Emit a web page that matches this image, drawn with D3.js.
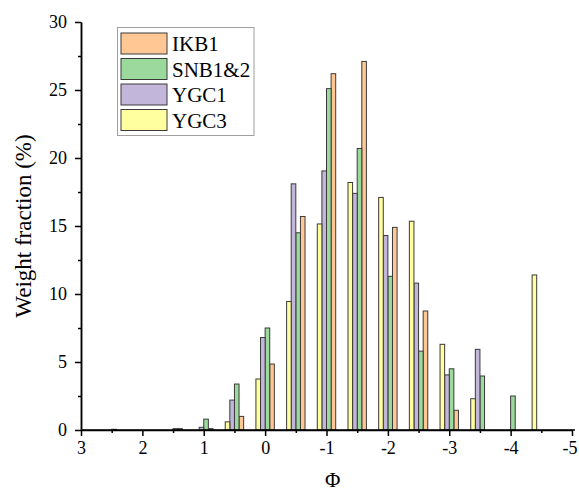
<!DOCTYPE html>
<html><head><meta charset="utf-8">
<script src="https://cdn.jsdelivr.net/npm/d3@7"></script>
<style>body{margin:0;background:#fff}svg{display:block}</style>
</head><body><svg id="c" width="579" height="493" style="font-family:'Liberation Serif'"></svg>
<script>
const phi = [2.5, 2, 1.5, 1, 0.5, 0, -0.5, -1, -1.5, -2, -2.5, -3, -3.5, -4, -4.5];
const seriesNames = ["IKB1", "SNB1&2", "YGC1", "YGC3"];
const IKB1  = [0, 0, 0.1, 0.1, 1.0, 4.85, 15.7, 26.2, 27.1, 14.9, 8.75, 1.45, 0, 0, 0];
const SNB12 = [0.05, 0, 0.1, 0.8, 3.38, 7.5, 14.5, 25.1, 20.7, 11.3, 5.8, 4.5, 3.97, 2.5, 0];
const YGC1  = [0, 0, 0, 0.2, 2.2, 6.8, 18.1, 19.05, 17.4, 14.3, 10.8, 4.05, 5.93, 0, 0];
const YGC3  = [0, 0, 0, 0, 0.6, 3.75, 9.45, 15.15, 18.2, 17.1, 15.35, 6.3, 2.3, 0, 11.4];
const colors = ["#FFC794", "#9CD99C", "#C3B6DB", "#FFFFA0"];
const xTicks = [3, 2, 1, 0, -1, -2, -3, -4, -5];
const yTicks = [0, 5, 10, 15, 20, 25, 30];

const FONT = "'Liberation Serif', 'Times New Roman', serif";
const svg = d3.select("#c");
const x = d3.scaleLinear().domain([3, -5]).range([81, 572]);
const y = d3.scaleLinear().domain([0, 30]).range([430, 22]);
const seriesVals = [IKB1, SNB12, YGC1, YGC3];
const bw = 0.075;
// visual order left->right: YGC3, YGC1, SNB1&2, IKB1
const offsets = [-0.075, 0, 0.075, 0.15];

const bars = [];
seriesVals.forEach((vals, s) => {
  vals.forEach((v, i) => { if (v > 0) bars.push({s, c: phi[i], v}); });
});
svg.append("g").selectAll("rect").data(bars).join("rect")
  .attr("x", d => x(d.c + offsets[d.s]))
  .attr("width", d => x(d.c) - x(d.c + bw))
  .attr("y", d => y(d.v))
  .attr("height", d => y(0) - y(d.v))
  .attr("fill", d => colors[d.s])
  .attr("stroke", "#3a3a3a").attr("stroke-width", 1);

const fmt = d => String(d);
const xAxis = svg.append("g").attr("transform", `translate(0,${y(0)})`)
  .call(d3.axisBottom(x).tickValues(xTicks).tickFormat(fmt).tickSize(6).tickPadding(5).tickSizeOuter(0));
const xMinor = svg.append("g").attr("transform", `translate(0,${y(0)})`)
  .call(d3.axisBottom(x).tickValues(d3.range(2.5, -5, -1)).tickFormat("").tickSize(3).tickSizeOuter(0));
const yAxis = svg.append("g").attr("transform", `translate(${x(3)},0)`)
  .call(d3.axisLeft(y).tickValues(yTicks).tickFormat(fmt).tickSize(6).tickPadding(8).tickSizeOuter(0));
const yMinor = svg.append("g").attr("transform", `translate(${x(3)},0)`)
  .call(d3.axisLeft(y).tickValues(d3.range(2.5, 30, 5)).tickFormat("").tickSize(3).tickSizeOuter(0));
[xAxis, xMinor, yAxis, yMinor].forEach(g => {
  g.attr("font-family", null).attr("font-size", null);
  g.selectAll("path,line").attr("stroke", "#000").attr("stroke-width", 1.5);
  g.selectAll("text").attr("fill", "#000")
   .style("font-family", FONT).style("font-size", "18px");
});
xAxis.select("path").attr("d", `M${x(3)},0H${x(-5) + 3}`);
xAxis.selectAll(".tick text").filter(d => d === -5).attr("text-anchor", "end").attr("x", 5);

svg.append("text").attr("x", x(-1.1)).attr("y", 487).attr("text-anchor", "middle")
  .style("font-family", FONT).style("font-size", "21px").text("Φ");
svg.append("text").attr("transform", `translate(31,${y(15)}) rotate(-90)`)
  .attr("text-anchor", "middle").style("font-family", FONT).style("font-size", "23px")
  .text("Weight fraction (%)");

const lg = svg.append("g");
lg.append("rect").attr("x", 117.5).attr("y", 27.5).attr("width", 136.5).attr("height", 108)
  .attr("fill", "#fff").attr("stroke", "#a0a0a0").attr("stroke-width", 1);
seriesNames.forEach((n, i) => {
  const yy = 33 + i * 25.5;
  lg.append("rect").attr("x", 121).attr("y", yy).attr("width", 46).attr("height", 21)
    .attr("fill", colors[i]).attr("stroke", "#3a3a3a").attr("stroke-width", 1);
  lg.append("text").attr("x", 172).attr("y", yy + 18)
    .style("font-family", FONT).style("font-size", "21px").text(n);
});
</script></body></html>
